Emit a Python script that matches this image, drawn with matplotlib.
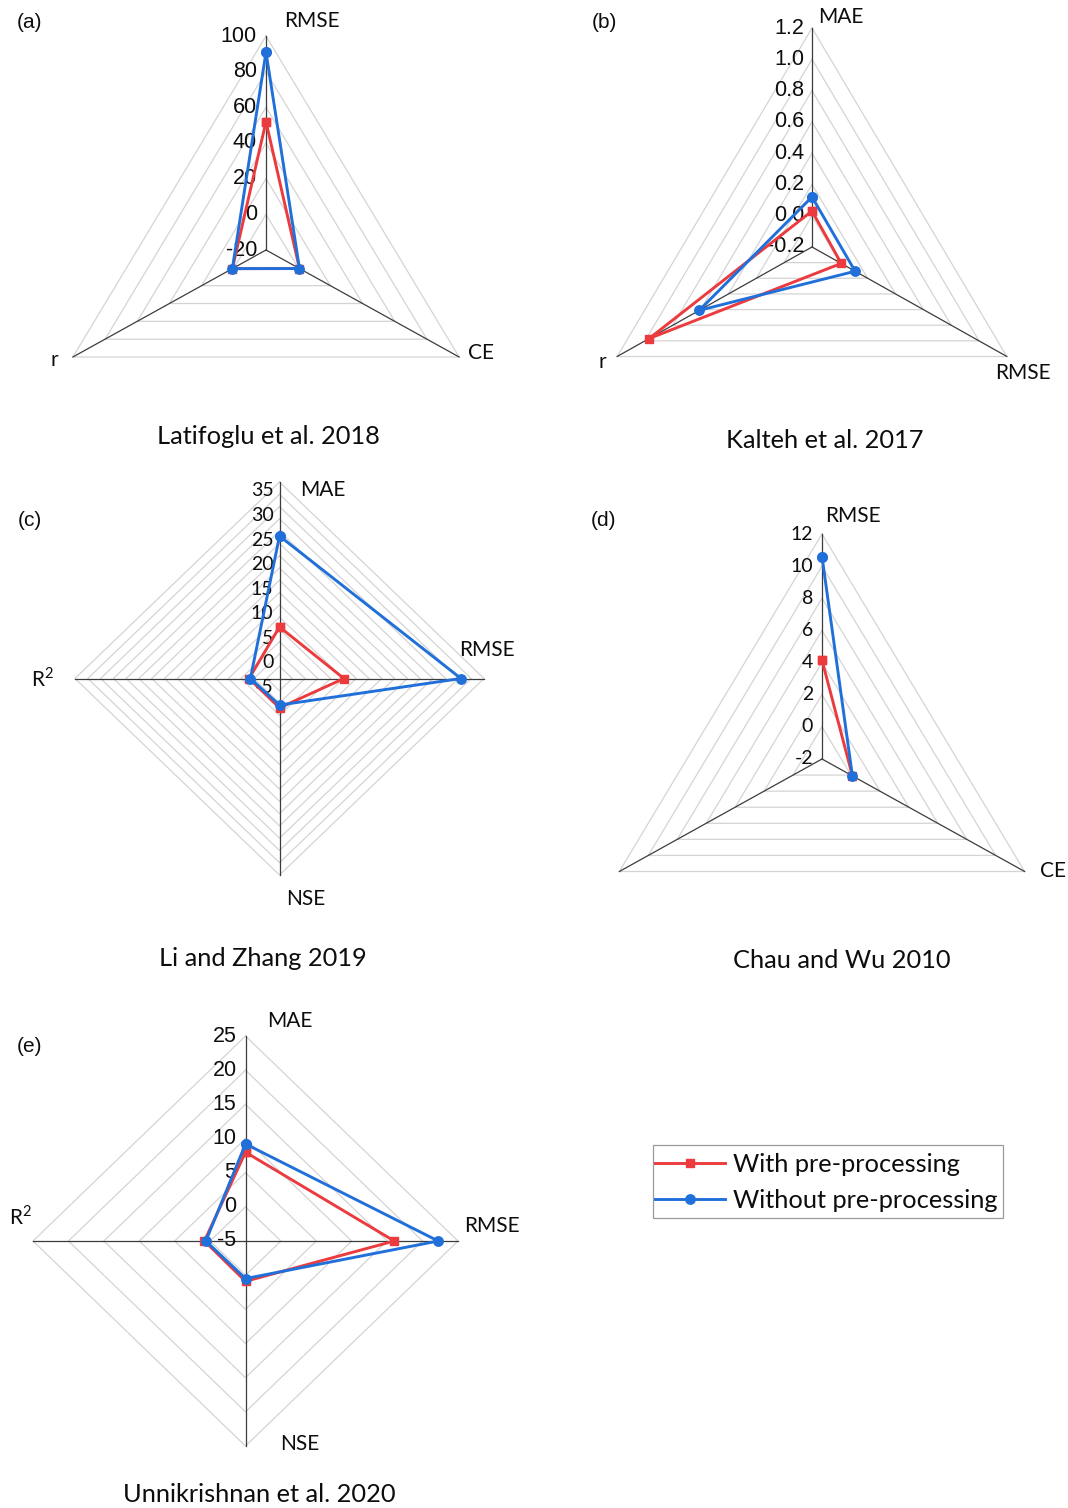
import numpy as np
import matplotlib
matplotlib.use("Agg")
import matplotlib.pyplot as plt
from matplotlib.lines import Line2D
from matplotlib.patches import Rectangle

# ---------------- data ----------------
series_names = ["With pre-processing", "Without pre-processing"]

a_title = "Latifoglu et al. 2018"
a_categories = ["RMSE", "CE", "r"]
a_with = [52.0, 0.8, 0.9]
a_without = [91.0, 0.8, 0.9]
a_ticks = [-20, 0, 20, 40, 60, 80, 100]

b_title = "Kalteh et al. 2017"
b_categories = ["MAE", "RMSE", "r"]
b_with = [0.03, 0.01, 0.97]
b_without = [0.12, 0.11, 0.61]
b_ticks = [-0.2, 0.0, 0.2, 0.4, 0.6, 0.8, 1.0, 1.2]

c_title = "Li and Zhang 2019"
c_categories = ["MAE", "RMSE", "NSE", "R$^\\mathregular{2}$"]
c_with = [5.5, 7.6, 0.97, 0.95]
c_without = [24.0, 30.5, 0.4, 0.7]
c_ticks = [-5, 0, 5, 10, 15, 20, 25, 30, 35]

d_title = "Chau and Wu 2010"
d_categories = ["RMSE", "CE", ""]
d_with = [4.15, 0.1, np.nan]
d_without = [10.6, 0.1, np.nan]
d_ticks = [-2, 0, 2, 4, 6, 8, 10, 12]

e_title = "Unnikrishnan et al. 2020"
e_categories = ["MAE", "RMSE", "NSE", "R$^\\mathregular{2}$"]
e_with = [8.0, 16.0, 0.9, 0.8]
e_without = [9.2, 22.2, 0.5, 0.6]
e_ticks = [-5, 0, 5, 10, 15, 20, 25]

# ---------------- style / layout ----------------
W, H = 1068, 1508
RED = "#EC3B3E"
BLUE = "#2170DA"
GRID = "#d4d4d4"
SPOKE = "#3c3c3c"
TXT = "#0d0d0d"
CAL = ["Lato", "DejaVu Sans"]
ARI = ["Liberation Sans", "DejaVu Sans"]

plt.rcParams["mathtext.fontset"] = "custom"
plt.rcParams["mathtext.rm"] = "Lato"

fig = plt.figure(figsize=(W / 100, H / 100), dpi=100)
fig.patch.set_facecolor("white")


def px(x, y):
    return x / W, 1 - y / H


layouts = {
    "a": dict(geom=(266, 250, 223, 214), step=20, fmt="{:g}", tfont=ARI, tsize=15.5,
              tgap=9, tdy=0, letter=(30, 22), title=(268, 436),
              labels=[(312, 21), (481, 353), (54, 360)]),
    "b": dict(geom=(812, 247, 225, 219), step=0.2, fmt="{:.1f}", tfont=ARI, tsize=15.5,
              tgap=8, tdy=0, letter=(604, 22), title=(825, 440),
              labels=[(841, 17), (1023, 373), (602, 362)]),
    "c": dict(geom=(279.5, 678.5, 204.5, 196.5), step=2.5, fmt="{:g}", tfont=CAL, tsize=14,
              tgap=6, tdy=9, letter=(30, 520), title=(263, 958),
              labels=[(323, 490), (487, 650), (306, 899), (42, 679)]),
    "d": dict(geom=(822, 759, 234, 225), step=2, fmt="{:g}", tfont=CAL, tsize=14,
              tgap=9, tdy=0, letter=(604, 520), title=(842, 960),
              labels=[(853, 516), (1053, 871), (602, 875)]),
    "e": dict(geom=(245.5, 1241, 212.5, 205), step=5, fmt="{:g}", tfont=ARI, tsize=15.5,
              tgap=9, tdy=0, letter=(30, 1046), title=(259, 1495),
              labels=[(290, 1021), (492, 1226), (300, 1444), (20, 1217)]),
}


def radar(key, cats, with_v, without_v, ticks, title):
    lay = layouts[key]
    cx, cy, rx, ry = lay["geom"]
    l, b = px(cx - rx, cy + ry)
    ax = fig.add_axes([l, b, 2 * rx / W, 2 * ry / H], projection="polar")
    ax.set_aspect("auto")
    ax.set_autoscale_on(False)
    ax.set_theta_zero_location("N")
    ax.set_theta_direction(-1)
    rmin, rmax = ticks[0], ticks[-1]
    ax.set_ylim(rmin, rmax)
    ax.grid(False)
    ax.set_xticks([])
    ax.set_yticks([])
    ax.spines["polar"].set_visible(False)
    ax.patch.set_alpha(0)

    n = len(cats)
    th = np.arange(n) * 2 * np.pi / n
    thc = np.append(th, th[0])
    step = lay["step"]
    for v in np.arange(rmin + step, rmax + step / 2, step):
        ax.plot(thc, np.full(n + 1, v), color=GRID, lw=0.9, zorder=1, clip_on=False)
    for t in th:
        ax.plot([t, t], [rmin, rmax], color=SPOKE, lw=0.9, zorder=2, clip_on=False)

    wv = np.append(np.asarray(with_v, float), with_v[0])
    ov = np.append(np.asarray(without_v, float), without_v[0])
    ax.plot(thc, wv, color=RED, lw=2.1, marker="s", ms=6.3, zorder=4, clip_on=False)
    ax.plot(thc, ov, color=BLUE, lw=2.1, marker="o", ms=6.8, zorder=5, clip_on=False)

    for v in ticks:
        ax.annotate(lay["fmt"].format(v), xy=(0, v), xycoords="data",
                    xytext=(-lay["tgap"] * 0.72, -lay["tdy"] * 0.72),
                    textcoords="offset points", ha="right", va="center",
                    fontsize=lay["tsize"], family=lay["tfont"], color=TXT,
                    zorder=3, annotation_clip=False)

    for name, (x, y) in zip(cats, lay["labels"]):
        if name:
            fig.text(*px(x, y), name, ha="center", va="center", fontsize=15,
                     family=CAL, color=TXT)
    fig.text(*px(*lay["letter"]), f"({key})", ha="center", va="center",
             fontsize=15, family=ARI, color=TXT)
    fig.text(*px(*lay["title"]), title, ha="center", va="center",
             fontsize=18.3, family=CAL, color=TXT)
    ax.set_ylim(rmin, rmax)
    return ax


radar("a", a_categories, a_with, a_without, a_ticks, a_title)
radar("b", b_categories, b_with, b_without, b_ticks, b_title)
radar("c", c_categories, c_with, c_without, c_ticks, c_title)
radar("d", d_categories, d_with, d_without, d_ticks, d_title)
radar("e", e_categories, e_with, e_without, e_ticks, e_title)

handles = [
    Line2D([], [], color=RED, lw=2.1, marker="s", ms=6.3),
    Line2D([], [], color=BLUE, lw=2.1, marker="o", ms=6.8),
]
leg = fig.legend(handles, series_names, loc="upper left",
                 bbox_to_anchor=px(655, 1153), borderaxespad=0, borderpad=0,
                 frameon=False, prop=dict(family=CAL, size=18.3),
                 handlelength=2.75, handletextpad=0.3, labelspacing=0.5)
for t in leg.get_texts():
    t.set_color(TXT)
fig.patches.append(Rectangle(px(653, 1218), 350 / W, 73 / H,
                             transform=fig.transFigure, fill=False,
                             edgecolor="#9a9a9a", lw=0.9))

fig.savefig("out.png", dpi=100, facecolor="white")
